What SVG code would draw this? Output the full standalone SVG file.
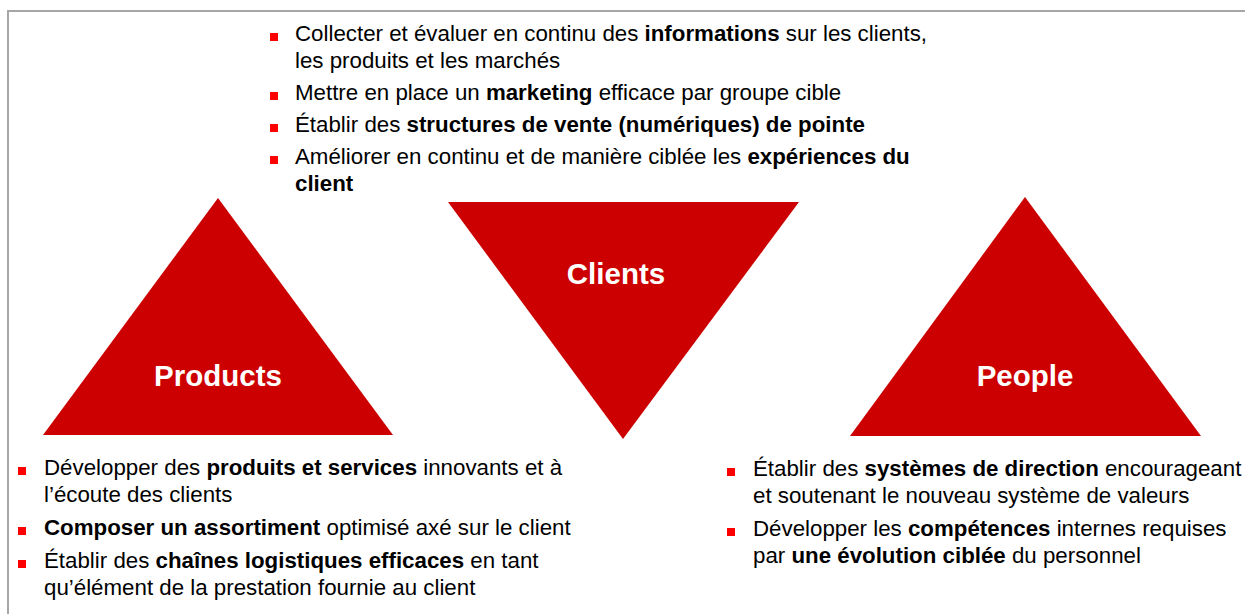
<svg xmlns="http://www.w3.org/2000/svg" width="1245" height="614" viewBox="0 0 1245 614">
<style>
.tri{fill:#cc0000}
.ttl{font-family:"Liberation Sans",Arial,sans-serif;font-weight:bold;font-size:29.5px;fill:#ffffff;text-anchor:middle}
.txt{font-family:"Liberation Sans",Arial,sans-serif;font-size:22.3px;fill:#000000}
.b{font-weight:bold}
.blt{fill:#ff0000}
.frame{stroke:#a6a6a6;stroke-width:2;fill:none}
</style>
<rect width="1245" height="614" fill="#ffffff"/>
<path class="frame" d="M8,614 V11 H1245"/>

<g id="clients">
<polygon class="tri" points="448,202 799,202 623,439"/>
<text class="ttl" x="616" y="284">Clients</text>
</g>

<g id="products">
<polygon class="tri" points="218,198 43,435 393,435"/>
<text class="ttl" x="218" y="386">Products</text>
</g>

<g id="people">
<polygon class="tri" points="1025,197 850,436 1201,436"/>
<text class="ttl" x="1025" y="386">People</text>
</g>

<g id="clients-list">
<rect class="blt" x="270" y="33" width="8" height="8"/>
<text class="txt" x="295" y="41">Collecter et évaluer en continu des <tspan class="b">informations</tspan> sur les clients,</text>
<text class="txt" x="295" y="68">les produits et les marchés</text>
<rect class="blt" x="270" y="92" width="8" height="8"/>
<text class="txt" x="295" y="100">Mettre en place un <tspan class="b">marketing</tspan> efficace par groupe cible</text>
<rect class="blt" x="270" y="124" width="8" height="8"/>
<text class="txt" x="295" y="132">Établir des <tspan class="b">structures de vente (numériques) de pointe</tspan></text>
<rect class="blt" x="270" y="156" width="8" height="8"/>
<text class="txt" x="295" y="164">Améliorer en continu et de manière ciblée les <tspan class="b">expériences du</tspan></text>
<text class="txt b" x="295" y="191">client</text>
</g>

<g id="products-list">
<rect class="blt" x="18" y="467" width="8" height="8"/>
<text class="txt" x="44" y="475">Développer des <tspan class="b">produits et services</tspan> innovants et à</text>
<text class="txt" x="44" y="502">l’écoute des clients</text>
<rect class="blt" x="18" y="527" width="8" height="8"/>
<text class="txt" x="44" y="535"><tspan class="b">Composer un assortiment</tspan> optimisé axé sur le client</text>
<rect class="blt" x="18" y="560" width="8" height="8"/>
<text class="txt" x="44" y="568">Établir des <tspan class="b">chaînes logistiques efficaces</tspan> en tant</text>
<text class="txt" x="44" y="595">qu’élément de la prestation fournie au client</text>
</g>

<g id="people-list">
<rect class="blt" x="727" y="468" width="8" height="8"/>
<text class="txt" x="753" y="476">Établir des <tspan class="b">systèmes de direction</tspan> encourageant</text>
<text class="txt" x="753" y="503">et soutenant le nouveau système de valeurs</text>
<rect class="blt" x="727" y="528" width="8" height="8"/>
<text class="txt" x="753" y="536">Développer les <tspan class="b">compétences</tspan> internes requises</text>
<text class="txt" x="753" y="563">par <tspan class="b">une évolution ciblée</tspan> du personnel</text>
</g>
</svg>
